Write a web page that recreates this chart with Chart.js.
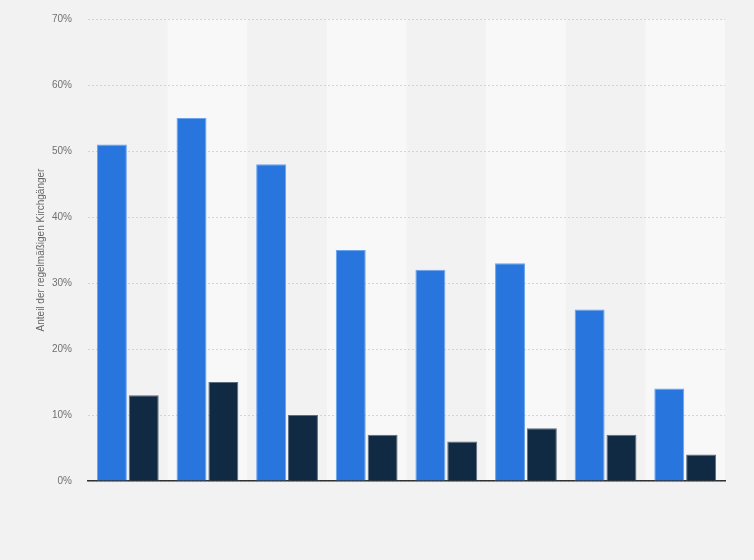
<!DOCTYPE html>
<html>
<head>
<meta charset="utf-8">
<script src="https://cdn.jsdelivr.net/npm/chart.js@4.4.1/dist/chart.umd.min.js"></script>
<style>
  html, body { margin: 0; padding: 0; background: #f2f2f2; }
  #wrap { width: 754px; height: 560px; position: relative; }
</style>
</head>
<body>
<div id="wrap"><canvas id="c" width="754" height="560"></canvas></div>
<script>
const categories = ['', '', '', '', '', '', '', ''];
const seriesA = [51, 55, 48, 35, 32, 33, 26, 14];
const seriesB = [13, 15, 10, 7, 6, 8, 7, 4];
const yTicks = [0, 10, 20, 30, 40, 50, 60, 70];
const yTitle = 'Anteil der regelmäßigen Kirchgänger';

const bgPlugin = {
  id: 'bg',
  beforeDraw(chart) {
    const { ctx, chartArea, scales } = chart;
    ctx.save();
    ctx.fillStyle = '#f2f2f2';
    ctx.fillRect(0, 0, chart.width, chart.height);
    const x = scales.x;
    const w = (chartArea.right - chartArea.left) / categories.length;
    ctx.fillStyle = '#f8f8f8';
    for (let i = 1; i < categories.length; i += 2) {
      const c = x.getPixelForValue(i);
      ctx.fillRect(c - w / 2, chartArea.top, w, chartArea.bottom - chartArea.top);
    }
    ctx.restore();
  }
};

new Chart(document.getElementById('c'), {
  type: 'bar',
  data: {
    labels: categories,
    datasets: [
      { data: seriesA, backgroundColor: '#2876dd', borderColor: '#6aa3ee', borderWidth: 1,
        categoryPercentage: 0.8, barPercentage: 0.94 },
      { data: seriesB, backgroundColor: '#0f2a42', borderColor: '#5b6d80', borderWidth: 1,
        categoryPercentage: 0.8, barPercentage: 0.94 }
    ]
  },
  options: {
    responsive: false,
    animation: false,
    layout: { padding: { top: 19, right: 29, bottom: 79, left: 0 } },
    plugins: { legend: { display: false }, tooltip: { enabled: false } },
    scales: {
      x: {
        grid: { display: false, drawTicks: false },
        ticks: { display: false },
        border: { display: true, color: '#333333', width: 1.5 }
      },
      y: {
        min: 0, max: 70,
        afterBuildTicks(axis) { axis.ticks = yTicks.map(v => ({ value: v })); },
        afterFit(axis) { axis.width = 88; axis.paddingTop = 0; axis.paddingBottom = 0; },
        grid: { color: '#d4d4d4', lineWidth: 1, drawTicks: false },
        border: { display: false, dash: [2, 2] },
        ticks: {
          padding: 16,
          color: '#707070',
          font: { family: 'Arial, "Liberation Sans", sans-serif', size: 10 },
          callback: v => v + '%'
        },
        title: {
          display: true, text: yTitle, color: '#666666',
          font: { family: 'Arial, "Liberation Sans", sans-serif', size: 10 },
          padding: { top: 35, bottom: 0 }
        }
      }
    }
  },
  plugins: [bgPlugin]
});
</script>
</body>
</html>
